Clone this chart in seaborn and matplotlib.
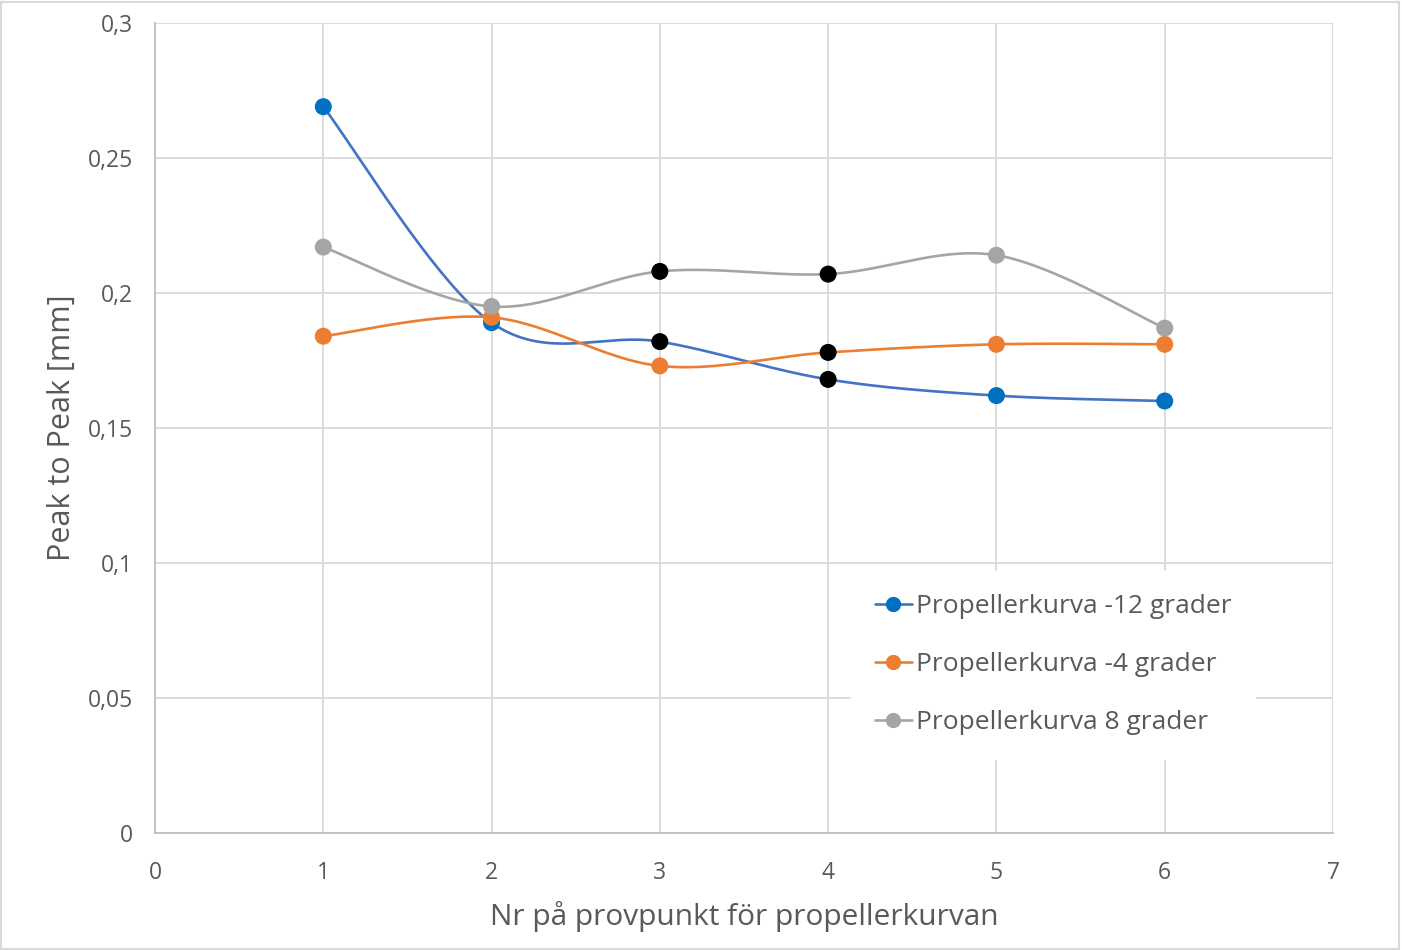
import numpy as np
import pandas as pd
import matplotlib
matplotlib.use("Agg")
import matplotlib.pyplot as plt
from matplotlib.lines import Line2D
from matplotlib.patches import Rectangle
import seaborn as sns

# Measurement points and peak-to-peak values per propeller curve
points = [1, 2, 3, 4, 5, 6]
ptp_minus12 = [0.269, 0.189, 0.182, 0.168, 0.162, 0.160]
ptp_minus4 = [0.184, 0.191, 0.173, 0.178, 0.181, 0.181]
ptp_plus8 = [0.217, 0.195, 0.208, 0.207, 0.214, 0.187]
series_names = ["Propellerkurva -12 grader", "Propellerkurva -4 grader", "Propellerkurva 8 grader"]
# points drawn with black markers in each series
black_points = {
    "Propellerkurva -12 grader": [3, 4],
    "Propellerkurva -4 grader": [4],
    "Propellerkurva 8 grader": [3, 4],
}
x_ticks = [0, 1, 2, 3, 4, 5, 6, 7]
y_ticks = [0, 0.05, 0.1, 0.15, 0.2, 0.25, 0.3]
y_tick_labels = ["0", "0,05", "0,1", "0,15", "0,2", "0,25", "0,3"]

line_colors = ["#4472C4", "#ED7D31", "#A5A5A5"]
marker_colors = ["#0070C0", "#ED7D31", "#A5A5A5"]


def catmull_rom(xs, ys, n=40):
    """Smooth curve through the points (uniform Catmull-Rom)."""
    P = np.column_stack([xs, ys]).astype(float)
    P = np.vstack([P[0], P, P[-1]])
    out = []
    t = np.linspace(0, 1, n)[:, None]
    for i in range(1, len(P) - 2):
        p0, p1, p2, p3 = P[i - 1], P[i], P[i + 1], P[i + 2]
        seg = 0.5 * ((2 * p1) + (-p0 + p2) * t + (2 * p0 - 5 * p1 + 4 * p2 - p3) * t ** 2
                     + (-p0 + 3 * p1 - 3 * p2 + p3) * t ** 3)
        out.append(seg if i == 1 else seg[1:])
    out = np.vstack(out)
    return out[:, 0], out[:, 1]


sns.set_theme(style="white")
plt.rcParams["font.family"] = ["Open Sans", "DejaVu Sans"]

fig = plt.figure(figsize=(14.02, 9.5), dpi=100)
ax = fig.add_axes([155 / 1402, 1 - 833 / 950, (1333 - 155) / 1402, (833 - 23) / 950])

text_color = "#595959"
grid_color = "#D9D9D9"

values = [ptp_minus12, ptp_minus4, ptp_plus8]
for name, vals, lc, mc in zip(series_names, values, line_colors, marker_colors):
    sx, sy = catmull_rom(points, vals)
    curve = pd.DataFrame({"x": sx, "y": sy})
    sns.lineplot(data=curve, x="x", y="y", ax=ax, color=lc, linewidth=1.9,
                 sort=False, estimator=None, zorder=3)
    df = pd.DataFrame({"x": points, "y": vals})
    df["c"] = [("#000000" if p in black_points[name] else mc) for p in points]
    sns.scatterplot(data=df, x="x", y="y", ax=ax, c=df["c"].tolist(), s=150,
                    edgecolor="none", linewidth=0, zorder=4)

ax.set_xlim(0, 7)
ax.set_ylim(0, 0.3)
ax.set_xticks(x_ticks)
ax.set_yticks(y_ticks)
ax.set_yticklabels(y_tick_labels)
ax.tick_params(axis="x", length=0, labelsize=16.5, colors=text_color, pad=20)
ax.tick_params(axis="y", length=0, labelsize=16.5, colors=text_color, pad=16)
ax.grid(True, color=grid_color, linewidth=1.3)
ax.set_axisbelow(True)
for side in ["top", "right"]:
    ax.spines[side].set_visible(False)
for side in ["left", "bottom"]:
    ax.spines[side].set_color("#BFBFBF")
    ax.spines[side].set_linewidth(1.3)

ax.set_xlabel("Nr på provpunkt för propellerkurvan", fontsize=21.5, color=text_color, labelpad=12)
ax.set_ylabel("Peak to Peak [mm]", fontsize=22, color=text_color, labelpad=8)

handles = [Line2D([0], [0], color=lc, linewidth=1.9, marker="o", markersize=11,
                  markerfacecolor=mc, markeredgewidth=0)
           for lc, mc in zip(line_colors, marker_colors)]
leg = ax.legend(handles, series_names, loc="lower right", bbox_to_anchor=(0.945, 0.075),
                frameon=True, fontsize=19, handlelength=1.4, handletextpad=0.15,
                labelspacing=1.25, borderpad=0.9, fancybox=False)
leg.get_frame().set_facecolor("white")
leg.get_frame().set_edgecolor("white")
leg.get_frame().set_alpha(1.0)
for t in leg.get_texts():
    t.set_color(text_color)

# thin outer border of the chart
fig.patches.append(Rectangle((0.001, 0.001), 0.997, 0.997, transform=fig.transFigure,
                             fill=False, edgecolor="#D9D9D9", linewidth=1.5))

fig.savefig("out.png", dpi=100, facecolor="white")
